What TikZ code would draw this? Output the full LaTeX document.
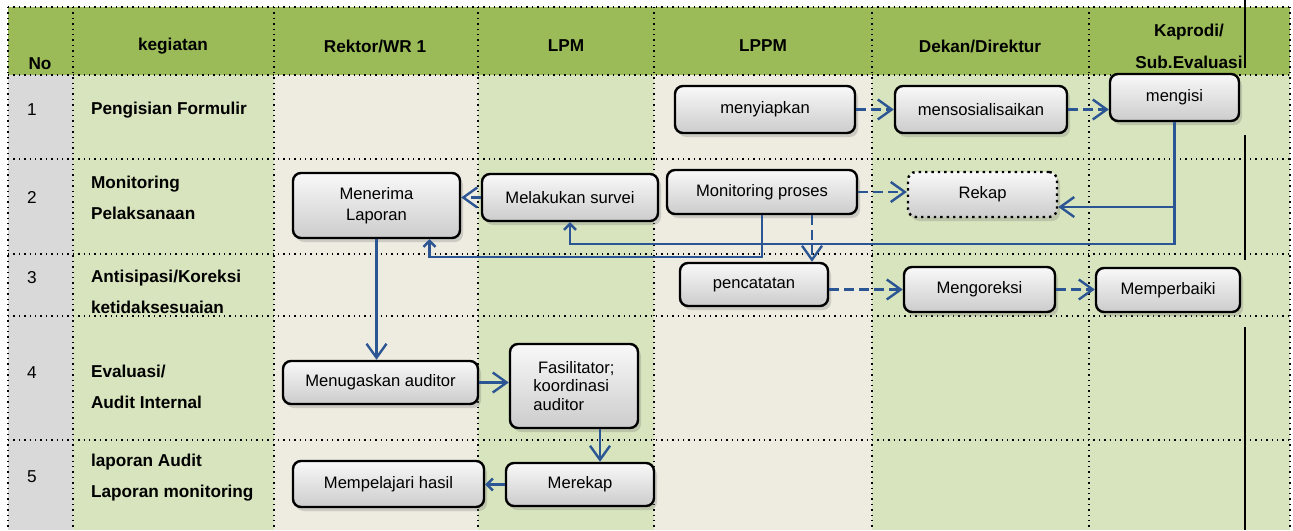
\documentclass[tikz,border=0pt]{standalone}
\usepackage{fontspec}
\setmainfont{Liberation Sans}
\usetikzlibrary{arrows.meta, calc, shadows}
\definecolor{headgreen}{HTML}{9BBB59}
\definecolor{lightgreen}{HTML}{D7E4BD}
\definecolor{beige}{HTML}{EEECE1}
\definecolor{nogray}{HTML}{D9D9D9}
\definecolor{flowblue}{HTML}{2C5593}

\begin{document}
\begin{tikzpicture}[x=0.5pt, y=-0.5pt,
    every node/.style={font=\fontsize{8.3}{10.5}\selectfont},
    head/.style={font=\bfseries\fontsize{8.6}{16}\selectfont, align=center},
    lbl/.style={anchor=west, align=left, font=\bfseries\fontsize{8.6}{15.5}\selectfont},
    num/.style={anchor=west, font=\fontsize{8.6}{10}\selectfont},
    box/.style={draw=black, line width=1.2pt, rounded corners=4pt, top color=gray!5, bottom color=gray!40,
      drop shadow={opacity=0.3, shadow xshift=1.5pt, shadow yshift=-2pt}, align=center, inner sep=1pt},
    gridline/.style={dotted, line width=0.7pt, black},
    flow/.style={draw=flowblue, line width=1.2pt, -{Straight Barb[length=7pt,width=10pt]}},
    flowsmall/.style={draw=flowblue, line width=1.2pt, -{Straight Barb[length=3pt,width=6pt]}},
    dflow/.style={flow, dash pattern=on 5pt off 2.5pt}]

  \fill[white] (0,0) rectangle (1293,530);
  \useasboundingbox (0,0) rectangle (1293,530);

  % table
  \fill[headgreen] (8,7) rectangle (1290,75);
  \foreach \a/\b/\c in {8/73/nogray, 73/274/lightgreen, 274/478/beige, 478/654/lightgreen,
                        654/872/beige, 872/1089/lightgreen, 1089/1290/lightgreen}
    \fill[\c] (\a,75) rectangle (\b,530);
  \foreach \x in {8,73,274,478,654,872,1089,1290}
    \draw[gridline] (\x,7) -- (\x,530);
  \foreach \y in {7,75,159,254,316,440}
    \draw[gridline] (8,\y) -- (1290,\y);
  \draw[line width=1pt] (1245,0) -- (1245,68) (1245,135) -- (1245,260) (1245,327) -- (1245,530);

  % header
  \node[head] (hno) at (40,64) {No};
  \node[head] (hkeg) at (173,46) {kegiatan};
  \node[head] (hrek) at (375,46) {Rektor/WR 1};
  \node[head] (hlpm) at (566,46) {LPM};
  \node[head] (hlppm) at (763,46) {LPPM};
  \node[head] (hdek) at (980,46) {Dekan/Direktur};
  \node[head] (hkap) at (1189,46) {Kaprodi/\\Sub.Evaluasi};

  % rows
  \node[num] (n1) at (20,110) {1};
  \node[num] (n2) at (20,197) {2};
  \node[num] (n3) at (20,278) {3};
  \node[num] (n4) at (20,373) {4};
  \node[num] (n5) at (20,477) {5};
  \node[lbl] (k1) at (84,110) {Pengisian Formulir};
  \node[lbl] (k2) at (84,198) {Monitoring\\Pelaksanaan};
  \node[lbl] (k3) at (84,292) {Antisipasi/Koreksi\\ketidaksesuaian};
  \node[lbl] (k4) at (84,387) {Evaluasi/\\Audit Internal};
  \node[lbl] (k5) at (84,478) {laporan Audit\\Laporan monitoring};

  % activities
  \node[box, minimum width=90pt, minimum height=23.5pt] (prep) at (765,109.5) {menyiapkan};
  \node[box, minimum width=86pt, minimum height=23.5pt] (soc) at (981,109.5) {mensosialisaikan};
  \node[box, minimum width=64.5pt, minimum height=23.5pt] (fill) at (1174.5,97.5) {mengisi};
  \node[box, minimum width=83.5pt, minimum height=32.5pt] (receive) at (376.5,205.5) {Menerima\\Laporan};
  \node[box, minimum width=88pt, minimum height=23.5pt] (survey) at (570,197.5) {Melakukan survei};
  \node[box, minimum width=95pt, minimum height=22pt] (monitor) at (762,192) {Monitoring proses};
  \node[box, dotted, minimum width=74.5pt, minimum height=22.5pt] (rekap) at (982.5,194.5) {Rekap};
  \node[box, minimum width=74pt, minimum height=21.5pt] (record) at (754,284.5) {pencatatan};
  \node[box, minimum width=75.5pt, minimum height=22.5pt] (correct) at (979.5,289.5) {Mengoreksi};
  \node[box, minimum width=72pt, minimum height=22pt] (improve) at (1168,290) {Memperbaiki};
  \node[box, minimum width=97.5pt, minimum height=21.5pt] (assign) at (380.5,382.5) {Menugaskan auditor};
  \node[box, minimum width=64pt, minimum height=42pt, align=left, font=\fontsize{8.3}{9.3}\selectfont] (coord) at (574,386) {\ Fasilitator;\\koordinasi\\auditor};
  \node[box, minimum width=95.5pt, minimum height=23pt] (study) at (388.5,484) {Mempelajari hasil};
  \node[box, minimum width=74pt, minimum height=21.5pt] (recap) at (580,484.5) {Merekap};

  % connectors
  \coordinate (rekapin) at ($(rekap.east)+(0,12.5)$);
  \draw[dflow] (prep) -- (soc);
  \draw[dflow] (soc.east) -- (soc.east -| fill.west);
  \draw[flowsmall] (fill.south) -- ++(0,122) -| (survey.south);
  \draw[flow] (rekapin -| fill.south) -- (rekapin);
  \draw[flowsmall] (monitor.south) -- ++(0,42) -| ($(receive.south)+(53,0)$);
  \draw[dflow] (monitor.east) -- (monitor.east -| rekap.west);
  \draw[dflow] ($(monitor.south)+(50,0)$) -- ($(record.north)+(58,0)$);
  \draw[dflow] (survey.west) -- (survey.west -| receive.east);
  \draw[dflow] (correct.west -| record.east) -- (correct.west);
  \draw[dflow] (correct.east) -- (correct.east -| improve.west);
  \draw[flow] (receive.south) -- (receive.south |- assign.north);
  \draw[flow] (assign.east) -- (assign.east -| coord.west);
  \draw[flow] ($(coord.south)+(26,0)$) -- ($(recap.north)+(20,0)$);
  \draw[flowsmall] (recap.west) -- (recap.west -| study.east);
\end{tikzpicture}
\end{document}
